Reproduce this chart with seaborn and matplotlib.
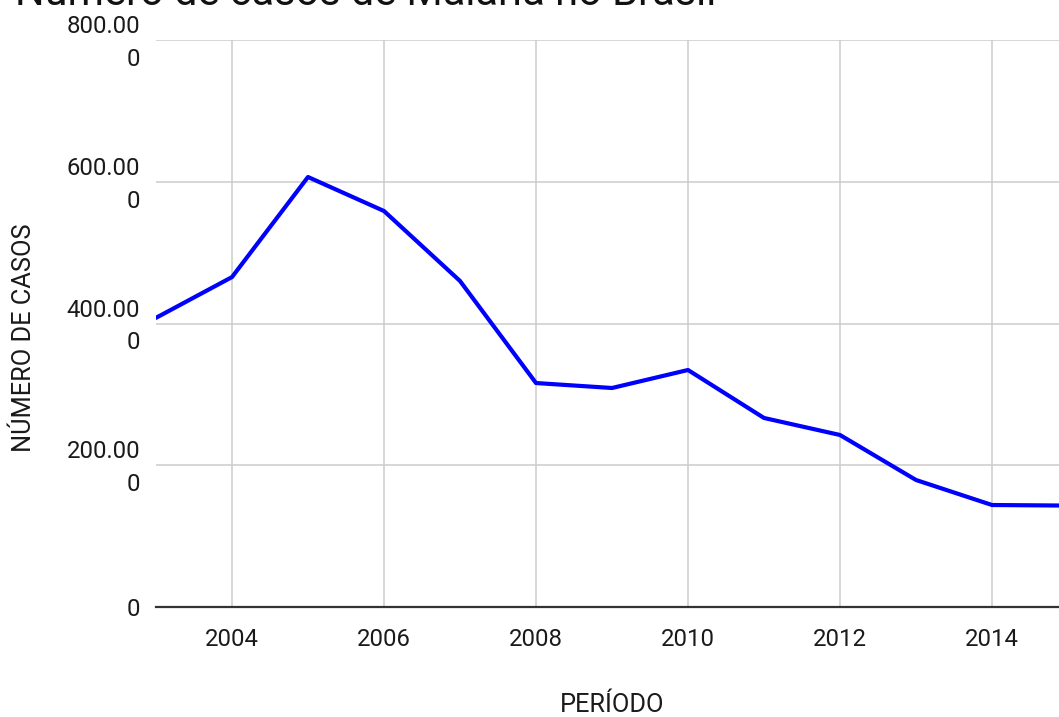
import matplotlib
matplotlib.use("Agg")
import matplotlib.pyplot as plt
import matplotlib.transforms as mtransforms
import seaborn as sns
import pandas as pd

# ---- data ----
years = [2003, 2004, 2005, 2006, 2007, 2008, 2009, 2010, 2011, 2012, 2013, 2014, 2015]
cases = [408000, 465500, 606700, 558700, 460000, 316000, 309000, 334400, 266700, 242700, 179200, 143900, 143100]
y_ticks = [0, 200000, 400000, 600000, 800000]
y_tick_labels = ["0", "200.00\n0", "400.00\n0", "600.00\n0", "800.00\n0"]
x_ticks = [2004, 2006, 2008, 2010, 2012, 2014]
title = "Número de casos de Malária no Brasil"
xlabel = "PERÍODO"
ylabel = "NÚMERO DE CASOS"

df = pd.DataFrame({"ano": years, "casos": cases})

sns.set_theme(style="whitegrid")
plt.rcParams["font.family"] = ["Roboto", "DejaVu Sans"]

W, H = 1059, 717
fig = plt.figure(figsize=(W / 100, H / 100), dpi=100)
left, right, top, bottom = 156, 1068, 40, 607
ax = fig.add_axes([left / W, 1 - bottom / H, (right - left) / W, (bottom - top) / H])

sns.lineplot(data=df, x="ano", y="casos", ax=ax, color="#0000ff", linewidth=3.0)

ax.set_xlim(2003, 2015)
ax.set_ylim(0, 800000)
ax.set_xticks(x_ticks)
ax.set_xticklabels([str(x) for x in x_ticks])
ax.set_yticks(y_ticks)
ax.set_yticklabels(y_tick_labels)

ax.tick_params(axis="both", length=0, labelsize=17.2, colors="#1a1a1a")
ax.tick_params(axis="x", pad=15)
ax.tick_params(axis="y", pad=11.5)
offset = mtransforms.ScaledTranslation(0, -3 / 100, fig.dpi_scale_trans)
for lab in ax.get_yticklabels():
    lab.set_linespacing(1.55)
    lab.set_va("center")
    lab.set_transform(lab.get_transform() + offset)

ax.grid(True, color="#cccccc", linewidth=1.1)
for s in ["left", "right", "top"]:
    ax.spines[s].set_visible(False)
ax.spines["bottom"].set_color("#333333")
ax.spines["bottom"].set_linewidth(1.6)
ax.set_axisbelow(True)

ax.set_xlabel(xlabel, fontsize=18.3, color="#1a1a1a")
ax.set_ylabel(ylabel, fontsize=18.3, color="#1a1a1a")
ax.xaxis.set_label_coords((612 - left) / (right - left), -(705 - bottom) / (bottom - top), transform=ax.transAxes)
ax.yaxis.set_label_coords(-(156 - 24) / (right - left), (bottom - 338) / (bottom - top))
ax.xaxis.label.set_va("center")
ax.yaxis.label.set_va("center")

t = fig.text(15 / W, 1 - 5 / H, title, ha="left", va="baseline", fontsize=24, color="#111111")
fig.canvas.draw()
w = t.get_window_extent().width
t.set_fontsize(24 * 700 / w)

fig.savefig("out.png", dpi=100)
